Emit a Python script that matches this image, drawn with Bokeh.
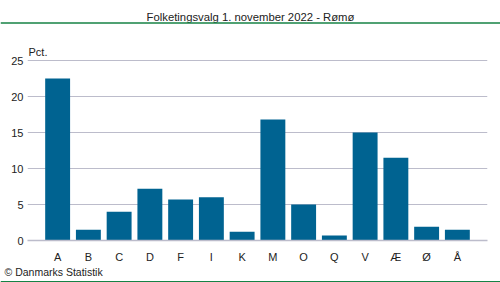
from bokeh.plotting import figure
from bokeh.layouts import column
from bokeh.models import (FactorRange, Range1d, FixedTicker, Label, Span, ColumnDataSource)
from bokeh.embed import file_html
from bokeh.resources import INLINE

# Party letters and vote share (percent)
parties = ["A", "B", "C", "D", "F", "I", "K", "M", "O", "Q", "V", "Æ", "Ø", "Å"]
shares = [22.5, 1.5, 4.0, 7.2, 5.7, 6.0, 1.2, 16.8, 5.0, 0.7, 15.0, 11.5, 1.9, 1.5]
y_ticks = [0, 5, 10, 15, 20, 25]

title_text = "Folketingsvalg 1. november 2022 - Rømø"
unit_text = "Pct."
credit_text = "© Danmarks Statistik"

FONT = "Liberation Sans"
TEXT = "#222222"
BAR = "#006391"
GRID = "#bcbccb"
GREEN = "#168245"

W = 500
HEAD_H = 24
FOOT_H = 16
CHART_H = 282 - HEAD_H - FOOT_H
BASELINE = 240  # page row of the zero line


def strip(height):
    """A bare figure whose data units are pixels measured from its top-left corner."""
    f = figure(width=W, height=height, x_range=Range1d(0, W), y_range=Range1d(height, 0),
               x_axis_type=None, y_axis_type=None, output_backend="svg", toolbar_location=None,
               min_border=0, frame_align=False)
    f.grid.visible = False
    f.outline_line_color = None
    f.background_fill_color = "white"
    f.border_fill_color = "white"
    return f


# heading strip with green rule
head = strip(HEAD_H)
head.add_layout(Label(x=250, y=16, text=title_text, text_align="center", text_baseline="middle",
                      text_font=FONT, text_font_size="11.3px", text_color=TEXT))
head.add_layout(Span(location=22.5, dimension="width", line_color=GREEN, line_width=1.6))

# bar chart; the frame runs up to the strip so the unit label fits inside it
src = ColumnDataSource(dict(party=parties, share=shares))
p = figure(
    width=W, height=CHART_H,
    x_range=FactorRange(*parties, range_padding=0.48, range_padding_units="absolute"),
    y_range=Range1d(0, 25 * (BASELINE - HEAD_H) / 180),
    output_backend="svg", toolbar_location=None, frame_align=False,
    min_border_left=27, min_border_right=13, min_border_top=0,
    min_border_bottom=CHART_H + HEAD_H - BASELINE,
)
p.background_fill_color = "white"
p.border_fill_color = "white"
p.outline_line_color = None

p.vbar(x="party", top="share", width=0.81, source=src, color=BAR, line_color=None)

p.yaxis.ticker = FixedTicker(ticks=y_ticks)
p.yaxis.axis_line_color = None
p.yaxis.major_tick_line_color = None
p.yaxis.minor_tick_line_color = None
p.yaxis.major_tick_out = 0
p.yaxis.major_tick_in = 0
p.yaxis.major_label_standoff = 4
p.yaxis.major_label_text_font = FONT
p.yaxis.major_label_text_font_size = "11px"
p.yaxis.major_label_text_color = TEXT

p.xaxis.axis_line_color = GRID
p.xaxis.axis_line_width = 1.5
p.xaxis.major_tick_line_color = None
p.xaxis.minor_tick_line_color = None
p.xaxis.major_tick_out = 0
p.xaxis.major_tick_in = 0
p.xaxis.major_label_standoff = 10
p.xaxis.major_label_text_font = FONT
p.xaxis.major_label_text_font_size = "11px"
p.xaxis.major_label_text_color = TEXT

p.xgrid.grid_line_color = None
p.ygrid.grid_line_color = GRID
p.ygrid.grid_line_width = 1.2

p.add_layout(Label(x=1, y=BASELINE - 51, x_units="screen", y_units="screen", text=unit_text,
                   text_align="left", text_baseline="middle", text_font=FONT,
                   text_font_size="11px", text_color=TEXT))

# footer strip with credit and green rule
foot = strip(FOOT_H)
foot.add_layout(Label(x=4, y=5, text=credit_text, text_align="left", text_baseline="middle",
                      text_font=FONT, text_font_size="10.5px", text_color=TEXT))
foot.add_layout(Span(location=15.2, dimension="width", line_color=GREEN, line_width=1.6))

page = column(head, p, foot, spacing=0)
open("out.html", "w").write(file_html(page, INLINE))
